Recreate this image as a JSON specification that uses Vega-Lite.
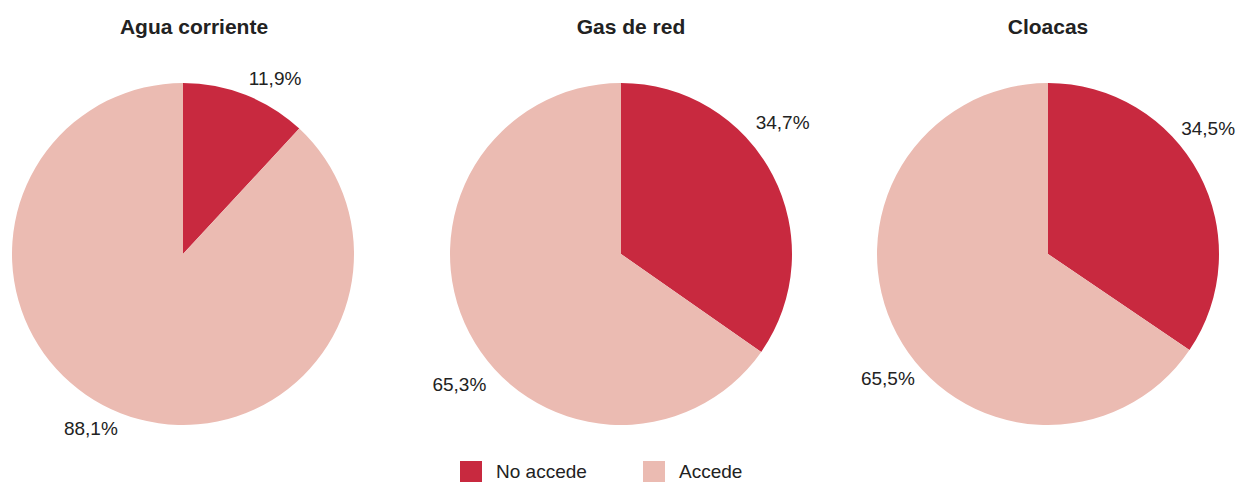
{
  "$schema": "https://vega.github.io/schema/vega-lite/v6.json",
  "padding": {"left": 0, "right": 0, "top": 17, "bottom": 0},
  "spacing": 0,
  "bounds": "flush",
  "background": "white",
  "config": {
    "view": {"stroke": null},
    "font": "Liberation Sans",
    "locale": {"number": {"decimal": ",", "thousands": ".", "grouping": [3], "currency": ["$", ""]}},
    "title": {"fontSize": 21, "fontWeight": "bold", "color": "#222222", "font": "Liberation Sans", "offset": 26},
    "concat": {"spacing": 0}
  },
  "datasets": {
    "d": [
      {"servicio": "Agua corriente", "categoria": "No accede", "orden": 1, "valor": 0.119},
      {"servicio": "Agua corriente", "categoria": "Accede", "orden": 2, "valor": 0.881},
      {"servicio": "Gas de red", "categoria": "No accede", "orden": 1, "valor": 0.347},
      {"servicio": "Gas de red", "categoria": "Accede", "orden": 2, "valor": 0.653},
      {"servicio": "Cloacas", "categoria": "No accede", "orden": 1, "valor": 0.345},
      {"servicio": "Cloacas", "categoria": "Accede", "orden": 2, "valor": 0.655}
    ]
  },
  "hconcat": [
    {
      "width": 366, "height": 380,
      "title": {"text": "Agua corriente", "dx": 11},
      "data": {"name": "d"},
      "transform": [{"filter": "datum.servicio == 'Agua corriente'"}],
      "encoding": {
        "theta": {"field": "valor", "type": "quantitative", "stack": true},
        "order": {"field": "orden", "type": "quantitative"}
      },
      "layer": [
        {"mark": {"type": "arc", "outerRadius": 171},
         "encoding": {"color": {"field": "categoria", "type": "nominal", "scale": {"domain": ["No accede", "Accede"], "range": ["#C8293F", "#EBBBB2"]},
           "legend": {"orient": "none", "legendX": 460, "legendY": 397, "direction": "horizontal", "title": null, "symbolType": "square", "symbolSize": 484, "symbolStrokeWidth": 0, "labelFontSize": 19, "labelColor": "#222222", "labelFont": "Liberation Sans", "labelOffset": 14, "columnPadding": 56}}}},
        {"mark": {"type": "text", "radius": 198, "thetaOffset": 0.11, "fontSize": 19, "color": "#222222"},
         "encoding": {"detail": {"field": "categoria", "type": "nominal"}, "text": {"field": "valor", "type": "quantitative", "format": ".1%"}}}
      ]
    },
    {
      "width": 510, "height": 380,
      "title": {"text": "Gas de red", "dx": 10},
      "data": {"name": "d"},
      "transform": [{"filter": "datum.servicio == 'Gas de red'"}],
      "encoding": {
        "theta": {"field": "valor", "type": "quantitative", "stack": true},
        "order": {"field": "orden", "type": "quantitative"}
      },
      "layer": [
        {"mark": {"type": "arc", "outerRadius": 171},
         "encoding": {"color": {"field": "categoria", "type": "nominal", "scale": {"domain": ["No accede", "Accede"], "range": ["#C8293F", "#EBBBB2"]}}}},
        {"mark": {"type": "text", "radius": 208, "thetaOffset": -0.2, "fontSize": 19, "color": "#222222"},
         "encoding": {"detail": {"field": "categoria", "type": "nominal"}, "text": {"field": "valor", "type": "quantitative", "format": ".1%"}}}
      ]
    },
    {
      "width": 344, "height": 380,
      "title": "Cloacas",
      "data": {"name": "d"},
      "transform": [{"filter": "datum.servicio == 'Cloacas'"}],
      "encoding": {
        "theta": {"field": "valor", "type": "quantitative", "stack": true},
        "order": {"field": "orden", "type": "quantitative"}
      },
      "layer": [
        {"mark": {"type": "arc", "outerRadius": 171},
         "encoding": {"color": {"field": "categoria", "type": "nominal", "scale": {"domain": ["No accede", "Accede"], "range": ["#C8293F", "#EBBBB2"]}}}},
        {"mark": {"type": "text", "radius": 203, "thetaOffset": -0.175, "fontSize": 19, "color": "#222222"},
         "encoding": {"detail": {"field": "categoria", "type": "nominal"}, "text": {"field": "valor", "type": "quantitative", "format": ".1%"}}}
      ]
    }
  ]
}
